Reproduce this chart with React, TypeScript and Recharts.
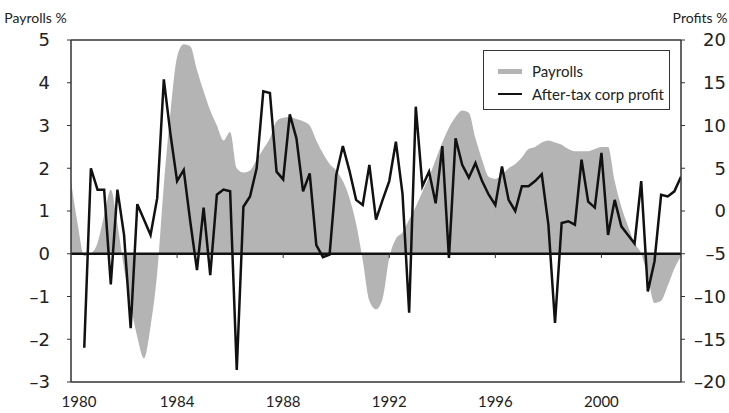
import React from 'react';
import {
  ComposedChart,
  Area,
  Line,
  XAxis,
  YAxis,
  ReferenceLine,
  Legend,
  Label,
} from 'recharts';

// quarterly, 1980Q1 .. 2003Q1
const payrolls = [
  1.7, 0.7, -0.05, 0.0, 0.25, 0.9, 1.5, 0.7, -0.35, -1.2,
  -1.95, -2.45, -1.7, -0.45, 1.6, 3.3, 4.6, 4.9, 4.85, 4.3,
  3.8, 3.35, 3.0, 2.65, 2.85, 2.0, 1.9, 1.95, 2.2, 2.45,
  2.7, 3.1, 3.18, 3.2, 3.15, 3.1, 3.0, 2.65, 2.35, 2.1,
  1.95, 1.7, 1.3, 0.7, -0.15, -1.1, -1.3, -1.05, -0.1, 0.35,
  0.5, 0.8, 1.1, 1.45, 1.8, 2.2, 2.6, 2.95, 3.2, 3.35,
  3.3, 2.7, 2.2, 1.8, 1.75, 1.85, 2.0, 2.1, 2.25, 2.45,
  2.5, 2.6, 2.65, 2.6, 2.55, 2.45, 2.4, 2.4, 2.4, 2.45,
  2.5, 2.5, 1.7, 1.1, 0.65, 0.25, 0.0, -0.55, -1.15, -1.1,
  -0.75, -0.35, -0.05,
];

// quarterly, starts 1980Q3
const profits = [
  -16.0, 5.0,
  2.5, 2.5, -8.6, 2.5,
  -2.8, -13.7, 0.8, -1.0,
  -2.8, 1.5, 15.4, 9.0,
  3.5, 4.8, -1.3, -6.9,
  0.4, -7.5, 1.9, 2.5,
  2.3, -18.6, 0.5, 1.7,
  5.0, 14.0, 13.8, 4.6,
  3.7, 11.3, 8.5, 2.3,
  4.4, -4.0, -5.4, -5.1,
  4.2, 7.6, 4.7, 1.3,
  0.7, 5.4, -1.0, 1.3,
  3.5, 8.1, 2.0, -11.9,
  12.2, 2.9, 4.6, 0.9,
  7.6, -5.5, 8.5, 5.4,
  3.9, 5.6, 3.5, 1.9,
  0.7, 5.2, 1.3, 0.0,
  2.9, 2.9, 3.5, 4.3,
  -1.6, -13.1, -1.4, -1.2,
  -1.6, 6.0, 1.1, 0.4,
  6.8, -2.8, 1.3, -1.8,
  -2.8, -3.8, 3.5, -9.4,
  -5.9, 1.9, 1.7, 2.3,
  4.0,
];

const yearTicks = [1980, 1984, 1988, 1992, 1996, 2000];
const leftTicks = [-3, -2, -1, 0, 1, 2, 3, 4, 5];
const rightTicks = [-20, -15, -10, -5, 0, 5, 10, 15, 20];

const data = payrolls.map((p, i) => ({
  year: 1980 + i * 0.25,
  payrolls: p,
  profit: i >= 2 ? profits[i - 2] : null,
}));

const dash = (v: number) => (v < 0 ? '\u2013' + Math.abs(v) : String(v));

const XTick = (props: any) => {
  const { x, y, payload } = props;
  const shift = payload.value === 1980 ? 8 : 0;
  return (
    <text x={x + shift} y={y} dy="0.71em" textAnchor="middle" fontFamily="Lato" fontSize={15} fill="#222">
      {payload.value}
    </text>
  );
};

const LegendBox = () => (
  <div
    style={{
      border: '1.5px solid #333',
      background: '#fff',
      width: 187,
      height: 60,
      boxSizing: 'border-box',
      fontFamily: 'Lato',
      fontSize: 15,
      color: '#222',
      padding: '9px 0 0 14px',
    }}
  >
    <div style={{ display: 'flex', alignItems: 'center', height: 22 }}>
      <span style={{ width: 24, height: 5, background: '#b4b4b4', marginRight: 10 }} />
      Payrolls
    </div>
    <div style={{ display: 'flex', alignItems: 'center', height: 24 }}>
      <span style={{ width: 24, height: 2, background: '#111', marginRight: 10 }} />
      After-tax corp profit
    </div>
  </div>
);

export default function App() {
  return (
    <div style={{ position: 'absolute', left: 0, top: 0, width: 729, height: 413, background: '#fff' }}>
      <ComposedChart width={729} height={413} data={data} margin={{ top: 40, right: 0, bottom: 0, left: 0 }}>
        <XAxis
          type="number"
          dataKey="year"
          domain={[1980, 2003]}
          ticks={yearTicks}
          allowDataOverflow
          height={31}
          tickLine={false}
          tickSize={0}
          tickMargin={14}
          tick={<XTick />}
          axisLine={{ stroke: '#333', strokeWidth: 1.5 }}
        />
        <YAxis
          yAxisId="left"
          domain={[-3, 5]}
          ticks={leftTicks}
          width={71}
          tickSize={4}
          tickMargin={17}
          tickFormatter={dash}
          tick={{ fontFamily: 'DejaVu Sans', fontSize: 18, fill: '#222' }}
          tickLine={{ stroke: '#333' }}
          axisLine={{ stroke: '#333', strokeWidth: 1.5 }}
        >
          <Label value="Payrolls %" position="top" offset={17} style={{ fontFamily: 'Lato', fontSize: 14, fill: '#222' }} />
        </YAxis>
        <YAxis
          yAxisId="right"
          orientation="right"
          domain={[-20, 20]}
          ticks={rightTicks}
          width={48}
          tickSize={4}
          tickMargin={41}
          tickFormatter={dash}
          tick={{ fontFamily: 'DejaVu Sans', fontSize: 18, fill: '#222', textAnchor: 'end' }}
          tickLine={{ stroke: '#333' }}
          axisLine={{ stroke: '#333', strokeWidth: 1.5 }}
        >
          <Label value="Profits %" position="top" offset={17} dx={-5} style={{ fontFamily: 'Lato', fontSize: 14, fill: '#222' }} />
        </YAxis>
        <ReferenceLine yAxisId="left" y={5} stroke="#333" strokeWidth={1.5} />
        <Area
          yAxisId="left"
          type="monotone"
          dataKey="payrolls"
          baseValue={0}
          stroke="none"
          fill="#b4b4b4"
          fillOpacity={1}
          isAnimationActive={false}
        />
        <ReferenceLine yAxisId="left" y={0} stroke="#111" strokeWidth={2.5} />
        {yearTicks.slice(1).map((yr) => (
          <ReferenceLine
            key={yr}
            yAxisId="left"
            segment={[{ x: yr, y: 0 }, { x: yr, y: -0.1 }]}
            stroke="#333"
          />
        ))}
        <Line
          yAxisId="right"
          type="linear"
          dataKey="profit"
          stroke="#111"
          strokeWidth={2.5}
          dot={false}
          isAnimationActive={false}
        />
        <Legend
          verticalAlign="middle"
          align="center"
          layout="horizontal"
          content={<LegendBox />}
          wrapperStyle={{ left: 483, top: 50, width: 188, height: 62 }}
        />
      </ComposedChart>
    </div>
  );
}
